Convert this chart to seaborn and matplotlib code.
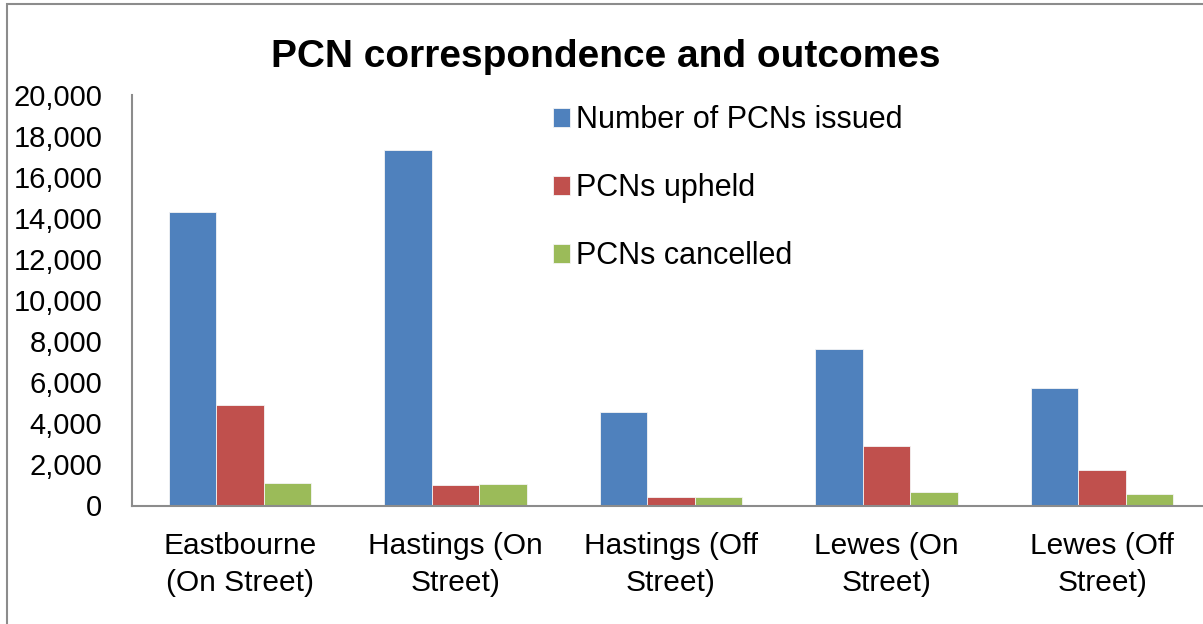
import numpy as np
import pandas as pd
import seaborn as sns
import matplotlib
matplotlib.use("Agg")
import matplotlib.pyplot as plt
from matplotlib.patches import Rectangle
from matplotlib.ticker import FuncFormatter

# chart values
categories = ["Eastbourne\n(On Street)", "Hastings (On\nStreet)", "Hastings (Off\nStreet)",
              "Lewes (On\nStreet)", "Lewes (Off\nStreet)"]
series_names = ["Number of PCNs issued", "PCNs upheld", "PCNs cancelled"]
issued = [14300, 17300, 4570, 7620, 5720]
upheld = [4890, 975, 420, 2890, 1740]
cancelled = [1100, 1040, 420, 650, 560]
colors = ["#4F81BD", "#C0504D", "#9BBB59"]
y_ticks = [0, 2000, 4000, 6000, 8000, 10000, 12000, 14000, 16000, 18000, 20000]

df = pd.DataFrame({
    "area": categories * 3,
    "series": np.repeat(series_names, len(categories)),
    "value": issued + upheld + cancelled,
})

sns.set_style("white")
plt.rcParams['font.family'] = ['Liberation Sans', 'DejaVu Sans']
plt.rcParams['text.color'] = 'black'
plt.rcParams['xtick.color'] = 'black'
plt.rcParams['ytick.color'] = 'black'

W, H = 1203, 624
fig = plt.figure(figsize=(W / 100, H / 100), dpi=100)
# axes laid out in pixel terms of the reference (right side runs past the crop)
left, right, top, bottom = 132, 1210, 95, 505.5
ax = fig.add_axes([left / W, 1 - bottom / H, (right - left) / W, (bottom - top) / H])

sns.barplot(data=df, x="area", y="value", hue="series", hue_order=series_names,
            palette=colors, width=0.66, gap=0, errorbar=None, ax=ax,
            edgecolor="#f4f4f4", linewidth=0.6, saturation=1)

ax.set_ylim(0, 20000)
ax.set_xlim(-0.5, 4.5)
ax.set_yticks(y_ticks)
ax.yaxis.set_major_formatter(FuncFormatter(lambda v, p: f"{int(v):,}"))
ax.set_xlabel("")
ax.set_ylabel("")
ax.tick_params(axis="y", length=0, pad=21.5, labelsize=21)
ax.tick_params(axis="x", length=0, pad=19, labelsize=21.5)
for lbl in ax.get_xticklabels():
    lbl.set_linespacing(1.42)

for s in ["top", "right"]:
    ax.spines[s].set_visible(False)
for s in ["left", "bottom"]:
    ax.spines[s].set_color("#8c8c8c")
    ax.spines[s].set_linewidth(1.5)

leg = ax.legend(loc="upper left", bbox_to_anchor=(553 / W, 1 - 105 / H),
                bbox_transform=fig.transFigure, frameon=False, fontsize=22,
                handlelength=0.56, handleheight=0.56, handletextpad=0.2,
                labelspacing=1.25, borderpad=0, borderaxespad=0)

fig.text(606 / W, 1 - 67 / H, "PCN correspondence and outcomes", ha="center",
         va="baseline", fontsize=28, fontweight="bold")

# outer chart frame
fig.patches.append(Rectangle((7 / W, -0.1), 1.1, 1 - 4 / H + 0.1, transform=fig.transFigure,
                             fill=False, edgecolor="#8c8c8c", linewidth=1.5))

fig.savefig("out.png", dpi=100)
